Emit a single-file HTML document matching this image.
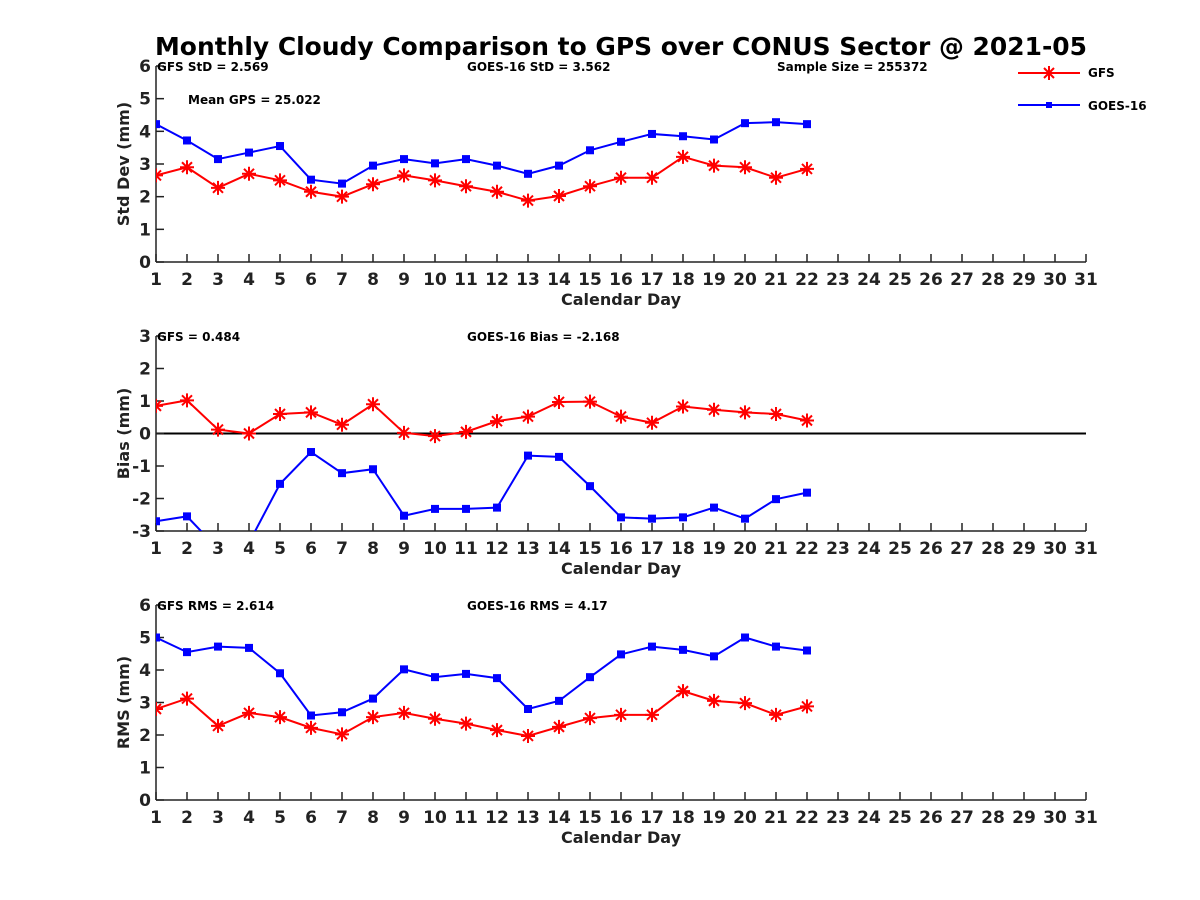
<!DOCTYPE html>
<html><head><meta charset="utf-8"><style>
body{margin:0;background:#fff;}
svg{display:block;font-family:"DejaVu Sans","Liberation Sans",sans-serif;font-weight:bold;}
</style></head><body>
<svg id="chart" width="1200" height="900" xmlns="http://www.w3.org/2000/svg">
<rect width="1200" height="900" fill="#fff"/>
<text x="621" y="55" font-size="25" text-anchor="middle" textLength="932" lengthAdjust="spacingAndGlyphs">Monthly Cloudy Comparison to GPS over CONUS Sector @ 2021-05</text>
<g id="legend">
 <line x1="1018" y1="73" x2="1080" y2="73" stroke="#f00" stroke-width="2"/>
 <path d="M1042,73H1056M1049,66V80M1044,68L1054,78M1044,78L1054,68" stroke="#f00" stroke-width="2"/>
 <text x="1088" y="77" font-size="12">GFS</text>
 <line x1="1018" y1="105" x2="1080" y2="105" stroke="#00f" stroke-width="2"/>
 <rect x="1046" y="102" width="6" height="6" fill="#00f"/>
 <text x="1088" y="110" font-size="12">GOES-16</text>
</g>
<g id="panels"></g>
</svg>
<script>
const days = Array.from({length:22},(_,i)=>i+1);
const stdGfs = [2.65,2.9,2.27,2.7,2.5,2.15,2.0,2.38,2.65,2.5,2.32,2.15,1.88,2.02,2.32,2.58,2.58,3.22,2.95,2.9,2.58,2.85];
const stdGoes = [4.22,3.72,3.15,3.35,3.55,2.52,2.4,2.95,3.15,3.02,3.15,2.95,2.7,2.95,3.42,3.68,3.92,3.85,3.75,4.25,4.28,4.22];
const biasGfs = [0.85,1.02,0.12,0.0,0.6,0.65,0.27,0.9,0.02,-0.08,0.05,0.38,0.52,0.97,0.98,0.52,0.33,0.83,0.73,0.65,0.6,0.4];
const biasGoes = [-2.7,-2.55,-3.55,-3.36,-1.55,-0.57,-1.22,-1.1,-2.53,-2.32,-2.32,-2.28,-0.68,-0.72,-1.62,-2.58,-2.62,-2.58,-2.28,-2.62,-2.02,-1.82];
const rmsGfs = [2.8,3.12,2.28,2.68,2.55,2.22,2.02,2.55,2.68,2.5,2.35,2.15,1.97,2.25,2.52,2.62,2.62,3.35,3.05,2.98,2.62,2.88];
const rmsGoes = [5.0,4.55,4.72,4.68,3.9,2.6,2.7,3.12,4.02,3.78,3.88,3.75,2.8,3.05,3.78,4.48,4.72,4.62,4.42,5.0,4.72,4.6];
const yTicksStd = [0,1,2,3,4,5,6];
const yTicksBias = [-3,-2,-1,0,1,2,3];
const xTickLabels = Array.from({length:31},(_,i)=>String(i+1));

const NS="http://www.w3.org/2000/svg";
const root=document.getElementById('panels');
function mk(tag,attrs,parent){const e=document.createElementNS(NS,tag);for(const k in attrs)e.setAttribute(k,attrs[k]);(parent||root).appendChild(e);return e;}
const X0=156,X1=1086;
const xs=d=>X0+(d-1)*(X1-X0)/30;

const panels=[
 {name:'std-panel',top:66,bot:262,ymin:0,ymax:6,ticks:yTicksStd,ylabel:'Std Dev (mm)',gfs:stdGfs,goes:stdGoes,
  notes:[['GFS StD = 2.569',157,71],['GOES-16 StD = 3.562',467,71],['Sample Size = 255372',777,71],['Mean GPS = 25.022',188,104]]},
 {name:'bias-panel',top:336,bot:531,ymin:-3,ymax:3,ticks:yTicksBias,ylabel:'Bias (mm)',gfs:biasGfs,goes:biasGoes,zero:true,
  notes:[['GFS = 0.484',157,341],['GOES-16 Bias = -2.168',467,341]]},
 {name:'rms-panel',top:605,bot:800,ymin:0,ymax:6,ticks:yTicksStd,ylabel:'RMS (mm)',gfs:rmsGfs,goes:rmsGoes,
  notes:[['GFS RMS = 2.614',157,610],['GOES-16 RMS = 4.17',467,610]]}
];
panels.forEach((p,pi)=>{
 const g=mk('g',{});
 
 
 const ys=v=>p.bot-(v-p.ymin)/(p.ymax-p.ymin)*(p.bot-p.top);
 const cid='clip'+pi;
 const cp=mk('clipPath',{id:cid},g);mk('rect',{x:X0,y:p.top,width:X1-X0,height:p.bot-p.top},cp);
 if(p.zero) mk('line',{x1:X0,x2:X1,y1:ys(0),y2:ys(0),stroke:'#000','stroke-width':2},g);
 mk('line',{x1:X0,x2:X0,y1:p.top,y2:p.bot,stroke:'#222','stroke-width':1.5},g);
 mk('line',{x1:X0,x2:X1,y1:p.bot,y2:p.bot,stroke:'#222','stroke-width':1.5},g);
 p.ticks.forEach(t=>{
  mk('line',{x1:X0,x2:X0+8,y1:ys(t),y2:ys(t),stroke:'#222','stroke-width':1.5},g);
  const tx=mk('text',{x:X0-5,y:ys(t)+6,'font-size':17,'text-anchor':'end',fill:'#222'},g);tx.textContent=t;
 });
 xTickLabels.forEach((l,i)=>{
  const x=xs(i+1);
  mk('line',{x1:x,x2:x,y1:p.bot,y2:p.bot-8,stroke:'#222','stroke-width':1.5},g);
  const tx=mk('text',{x:x,y:p.bot+23,'font-size':17,'text-anchor':'middle',fill:'#222'},g);tx.textContent=l;
 });
 const xl=mk('text',{x:621,y:p.bot+43,'font-size':16,'text-anchor':'middle',fill:'#222'},g);xl.textContent='Calendar Day';
 const cy=(p.top+p.bot)/2;
 const yl=mk('text',{x:129,y:cy,'font-size':16,'text-anchor':'middle',fill:'#222',transform:`rotate(-90 129 ${cy})`},g);yl.textContent=p.ylabel;
 p.notes.forEach(n=>{const t=mk('text',{x:n[1],y:n[2],'font-size':12,fill:'#000'},g);t.textContent=n[0];});
 const cg=mk('g',{'clip-path':`url(#${cid})`},g);
 const gp=mk('polyline',{points:days.map((d,i)=>xs(d)+','+ys(p.goes[i])).join(' '),fill:'none',stroke:'#00f','stroke-width':2},cg);
 
 
 days.forEach((d,i)=>{const r=mk('rect',{x:xs(d)-4,y:ys(p.goes[i])-4,width:8,height:8,fill:'#00f'},cg);
  
  });
 const rp=mk('polyline',{points:days.map((d,i)=>xs(d)+','+ys(p.gfs[i])).join(' '),fill:'none',stroke:'#f00','stroke-width':2},cg);
 
 
 days.forEach((d,i)=>{
  const x=xs(d),y=ys(p.gfs[i]);
  const s=mk('path',{d:`M${x-7},${y}H${x+7}M${x},${y-7}V${y+7}M${x-5},${y-5}L${x+5},${y+5}M${x-5},${y+5}L${x+5},${y-5}`,stroke:'#f00','stroke-width':2},cg);
  
  
 });
});
</script>
</body></html>
